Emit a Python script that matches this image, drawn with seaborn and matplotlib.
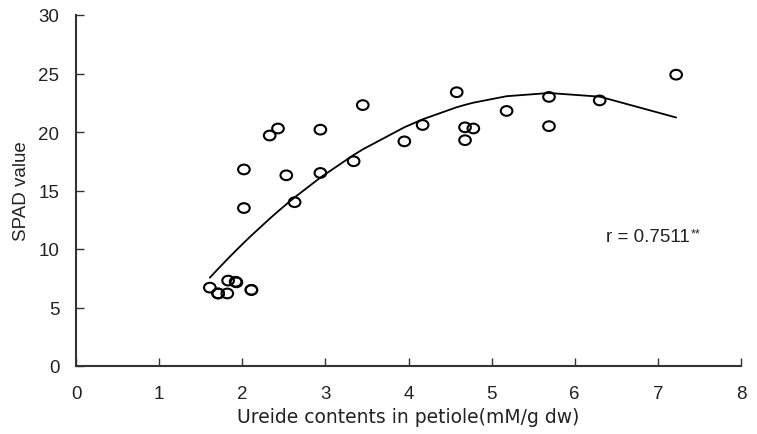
import numpy as np
import pandas as pd
import matplotlib
matplotlib.use("Agg")
import matplotlib.pyplot as plt
import matplotlib.path as mpath
from matplotlib.transforms import Affine2D
import seaborn as sns

# Data
ureide = [1.61, 1.71, 1.71, 1.82, 1.83, 1.92, 1.93, 2.11, 2.11, 2.02, 2.02,
          2.33, 2.43, 2.53, 2.63, 2.94, 2.94, 3.34, 3.45, 3.95, 4.17, 4.58,
          4.68, 4.68, 4.78, 5.18, 5.69, 5.69, 6.30, 7.22]
spad = [6.7, 6.2, 6.2, 6.2, 7.3, 7.2, 7.15, 6.5, 6.5, 16.8, 13.5,
        19.7, 20.3, 16.3, 14.0, 20.2, 16.5, 17.5, 22.3, 19.2, 20.6, 23.4,
        20.4, 19.3, 20.3, 21.8, 23.0, 20.5, 22.7, 24.9]
x_ticks = [0, 1, 2, 3, 4, 5, 6, 7, 8]
y_ticks = [0, 5, 10, 15, 20, 25, 30]
r_label = "r = 0.7511"
r_sup = "**"
x_label = "Ureide contents in petiole(mM/g dw)"
y_label = "SPAD value"

df = pd.DataFrame({"x": ureide, "y": spad})

# quadratic trend line fitted to the data
coef = np.polyfit(df["x"], df["y"], 2)
xs = np.sort(df["x"].unique())
trend = pd.DataFrame({"x": xs, "y": np.polyval(coef, xs)})

sns.set_style("white")
plt.rcParams["font.family"] = ["Liberation Sans", "DejaVu Sans"]
plt.rcParams["xtick.direction"] = "in"
plt.rcParams["ytick.direction"] = "in"
plt.rcParams["xtick.bottom"] = True
plt.rcParams["ytick.left"] = True

fig = plt.figure(figsize=(7.57, 4.35), dpi=100)
ax = fig.add_axes([76/757, 68/435, 665/757, 351/435])

ellipse = mpath.Path.unit_circle().transformed(Affine2D().scale(1.2, 1.0))

sns.lineplot(data=trend, x="x", y="y", ax=ax, color="black", linewidth=1.3,
             zorder=2)
sns.scatterplot(data=df, x="x", y="y", ax=ax, marker=ellipse, s=70,
                facecolor="none", edgecolor="black", linewidth=1.5, zorder=3)

ax.set_xlim(0, 8)
ax.set_ylim(0, 30)
ax.set_xticks(x_ticks)
ax.set_yticks(y_ticks)
ax.tick_params(axis="both", which="major", bottom=True, left=True,
               direction="in", length=5.5, width=1,
               colors="#333333", labelsize=13.5, labelcolor="#222222")
ax.tick_params(axis="x", pad=14)
ax.tick_params(axis="y", pad=12)
for s in ["top", "right"]:
    ax.spines[s].set_visible(False)
for s in ["left", "bottom"]:
    ax.spines[s].set_color("#333333")
    ax.spines[s].set_linewidth(1.5)

ax.set_xlabel(x_label, fontsize=13.5, color="#222222", labelpad=3,
              family=["DejaVu Sans"])
ax.set_ylabel(y_label, fontsize=13.5, color="#222222", labelpad=6)

t = ax.text(6.37, 11.1, r_label, fontsize=13.5, color="#222222", va="center",
            ha="left")
ax.annotate(r_sup, xy=(1, 1), xycoords=t, xytext=(1, 0),
            textcoords="offset points", fontsize=9, color="#222222",
            va="top", ha="left")

fig.savefig("out.png", dpi=100)
